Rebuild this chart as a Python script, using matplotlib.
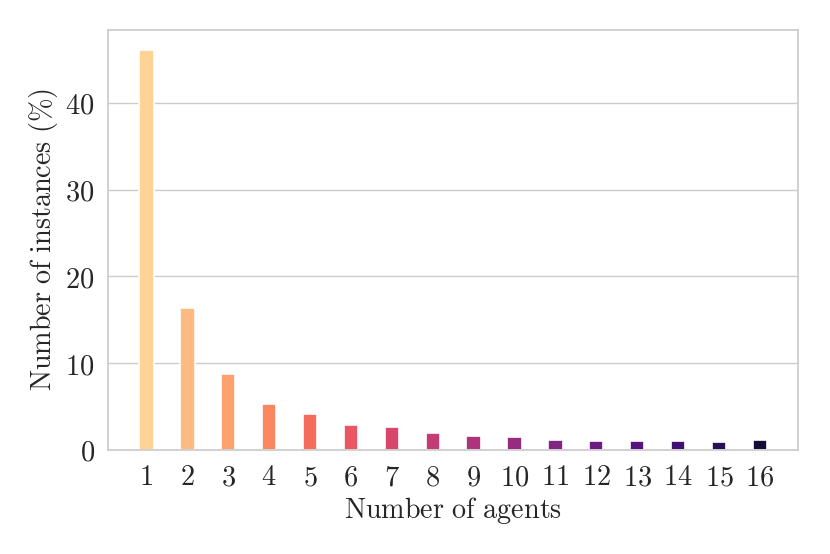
import matplotlib
matplotlib.use("Agg")
import matplotlib.pyplot as plt
import seaborn as sns
import numpy as np

agents = list(range(1, 17))
percent = [46.1, 16.3, 8.8, 5.3, 4.1, 2.86, 2.6, 1.93, 1.62, 1.47, 1.16, 1.04, 0.97, 1.04, 0.93, 1.16]
yticks = [0, 10, 20, 30, 40]

sns.set_theme(style="whitegrid")
plt.rcParams['mathtext.fontset'] = 'cm'

colors = plt.cm.magma(np.linspace(0.91, 0.1, len(agents)))

fig, ax = plt.subplots(figsize=(8.3, 5.54), dpi=100)
ax.bar(agents, percent, width=0.35, color=colors, edgecolor="white", linewidth=1.2)
ax.xaxis.grid(False)
ax.set_xticks(agents)
ax.set_xticklabels([r"$\mathrm{%d}$" % a for a in agents])
ax.set_yticks(yticks)
ax.set_yticklabels([r"$\mathrm{%d}$" % t for t in yticks])
ax.tick_params(labelsize=20.5, colors="#262626")
ax.set_xlabel(r"$\mathrm{Number\ of\ agents}$", fontsize=20.3, color="#262626", labelpad=3)
ax.set_ylabel(r"$\mathrm{Number\ of\ instances\ (\%)}$", fontsize=20.3, color="#262626")
for s in ax.spines.values():
    s.set_color("#cccccc")
fig.subplots_adjust(left=0.13, right=0.962, top=0.946, bottom=0.188)
fig.savefig("out.png")
